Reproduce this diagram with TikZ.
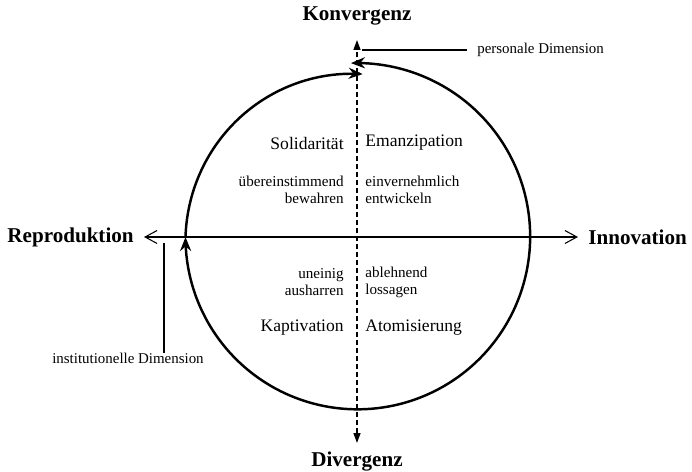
\documentclass[tikz,border=0pt]{standalone}
\usepackage{fontspec}
\setmainfont{Liberation Serif}
\usetikzlibrary{arrows.meta,positioning}

\begin{document}
\begin{tikzpicture}[x=0.02cm, y=0.02cm,
      lab/.style={font=\fontsize{12}{14}\selectfont\bfseries, inner sep=0pt},
      pole/.style={font=\fontsize{10}{12}\selectfont, inner sep=0pt},
      verb/.style={font=\fontsize{8.6}{9.7}\selectfont, inner sep=0pt},
      dim/.style={font=\fontsize{8.5}{10}\selectfont, inner sep=0pt},
      axis/.style={line width=0.6pt},
      turn/.style={line width=1.4pt},
    ]
      \useasboundingbox (-357,-235) rectangle (335,237);
      \coordinate (t) at (0,197);
      \coordinate (b) at (0,-206);
      \coordinate (l) at (-213,0);
      \coordinate (r) at (221,0);
      \node[lab] (1) at (0,221) {Konvergenz};
      \node[lab] (2) at (0,-225) {Divergenz};
      \node[lab, left=10 of l] (3) {Reproduktion};
      \node[lab, right=10 of r] (4) {Innovation};
      \node[pole, anchor=east] (5) at (-13,94) {Solidarität};
      \node[pole, anchor=west] (6) at (8,94) {Emanzipation};
      \node[verb, anchor=east, align=right] (7) at (-13,47) {übereinstimmend\\bewahren};
      \node[verb, anchor=west, align=left] (8) at (8,47) {einvernehmlich\\entwickeln};
      \node[verb, anchor=east, align=right] (9) at (-13,-45) {uneinig\\ausharren};
      \node[verb, anchor=west, align=left] (10) at (8,-45) {ablehnend\\lossagen};
      \node[pole, anchor=east] (11) at (-13,-91) {Kaptivation};
      \node[pole, anchor=west] (12) at (8,-91) {Atomisierung};
      \coordinate (p) at (5,187);
      \node[dim, anchor=west, inner xsep=2mm] (13) at (110,187) {personale Dimension};
      \coordinate (i) at (-193,-6);
      \node[dim, anchor=north] (14) at (-229,-116) {institutionelle Dimension};
      \draw[axis, {Straight Barb[length=2.4mm, width=2.6mm]}-{Straight Barb[length=2.4mm, width=2.6mm]}] (l) -- (r);
      \draw[line width=0.8pt, dash pattern=on 1mm off 0.6mm, {Triangle[length=2mm, width=1.4mm]}-{Triangle[length=2mm, width=1.4mm]}] (b) -- (t);
      \draw[axis] (p) -- (13);
      \draw[axis] (i) -- (i |- 14.north);
      \draw[turn, {Stealth[length=2.8mm, width=2.2mm]}-{Stealth[length=2.8mm, width=2.2mm]}] plot[domain=92:-180, samples=150, smooth] (\x:{174-2.5*(92-\x)/272});
      \draw[turn, -{Stealth[length=2.8mm, width=2.2mm]}] plot[domain=180:88, samples=60, smooth] (\x:{171.5-8.5*(180-\x)/92});
    \end{tikzpicture}
\end{document}
